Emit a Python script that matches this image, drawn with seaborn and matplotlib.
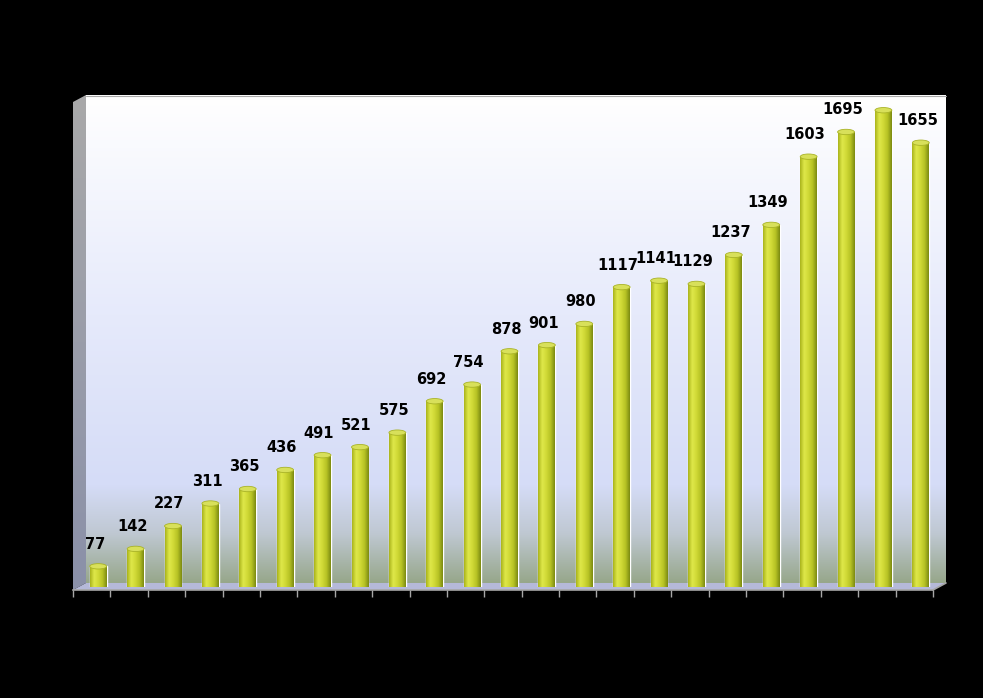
import numpy as np
import matplotlib
matplotlib.use('Agg')
import matplotlib.pyplot as plt
from matplotlib.colors import LinearSegmentedColormap
from matplotlib.patches import Polygon, Ellipse
import seaborn as sns

# data (category labels are not shown in the picture)
periods = [str(i) for i in range(1, 24)]
counts = [77, 142, 227, 311, 365, 436, 491, 521, 575, 692, 754, 878, 901, 980,
          1117, 1141, 1129, 1237, 1349, 1603, 1695, 1776, 1655]

W, H = 983, 698


def fr(x0, y0, x1, y1):
    # pixel box (top-left origin) -> figure fraction rect
    return [x0 / W, 1 - y1 / H, (x1 - x0) / W, (y1 - y0) / H]


sns.set_style('white')
plt.rcParams['font.family'] = ['DejaVu Sans']

fig = plt.figure(figsize=(9.83, 6.98), dpi=100, facecolor='black')

#%% 3D box decoration (walls + floor), pixel coords
deco = fig.add_axes([0, 0, 1, 1], zorder=0)
deco.axis('off')

wall_cmap = LinearSegmentedColormap.from_list(
    'wall', [(0, '#ffffff'), (0.45, '#e6eafb'), (0.8, '#d5dcf7'),
             (0.9, '#bfc8d2'), (1, '#97a78b')])
grad = np.linspace(0, 1, 256).reshape(-1, 1)
deco.imshow(grad, cmap=wall_cmap, extent=(86, 946, 583, 95), aspect='auto')
deco.plot([86, 946], [95.5, 95.5], color='#a9a9a9', lw=0.8)

left_cmap = LinearSegmentedColormap.from_list('left', ['#a9a9a9', '#9a9daa', '#8a90a8'])
lw_poly = Polygon([(73, 102), (86, 95), (86, 583), (73, 590)], closed=True,
                  facecolor='none', edgecolor='none')
deco.add_patch(lw_poly)
im = deco.imshow(grad, cmap=left_cmap, extent=(73, 86, 590, 95), aspect='auto')
im.set_clip_path(lw_poly)

deco.add_patch(Polygon([(73, 590), (86, 583), (946, 583), (933, 590)], closed=True,
                       facecolor='#b5b9d9', edgecolor='none'))
deco.plot([933, 946], [590, 583], color='#a6a6a6', lw=1.2)
deco.set_xlim(0, W)
deco.set_ylim(H, 0)

#%% tick marks along the front edge
tk = fig.add_axes(fr(73, 560, 933, 590), zorder=1)
tk.patch.set_alpha(0)
tk.set_xlim(-0.5, 22.5)
tk.set_xticks(np.arange(-0.5, 23, 1))
tk.set_xticklabels([])
tk.set_yticks([])
for s in ['top', 'left', 'right']:
    tk.spines[s].set_visible(False)
tk.spines['bottom'].set_color('#a6a6a6')
tk.spines['bottom'].set_linewidth(1.2)
tk.tick_params(axis='x', bottom=True, length=5, width=1, color='#a6a6a6',
               direction='out')

#%% bars
ax = fig.add_axes(fr(79.5, 85, 939.5, 587), zorder=2)
ax.patch.set_alpha(0)
sns.barplot(x=periods, y=counts, color='#c5cf2e', width=0.45, saturation=1, ax=ax)

bar_cmap = LinearSegmentedColormap.from_list(
    'bar', ['#aab41c', '#dfe84a', '#d0d936', '#b6c224', '#7c8a12'])
hgrad = np.linspace(0, 1, 64).reshape(1, -1)
for p in ax.patches:
    x0, w, h = p.get_x(), p.get_width(), p.get_height()
    bim = ax.imshow(hgrad, cmap=bar_cmap, extent=(x0, x0 + w, 0, h),
                    aspect='auto', zorder=2)
    bim.set_clip_path(p)
    ax.add_patch(Ellipse((x0 + w / 2, h), w, 20, facecolor='#d8e05a',
                         edgecolor='#a9b327', lw=0.6, zorder=3))

texts = ax.bar_label(ax.containers[0], labels=[str(v) for v in counts],
                     padding=10.5, fontsize=10.5, fontweight='bold', color='black')
for t in texts:
    t.xyann = (-2.5, t.xyann[1])
ax.set_xlim(-0.5, 22.5)
ax.set_ylim(0, 1870)
ax.axis('off')

fig.savefig('out.png', dpi=100, facecolor='black')
